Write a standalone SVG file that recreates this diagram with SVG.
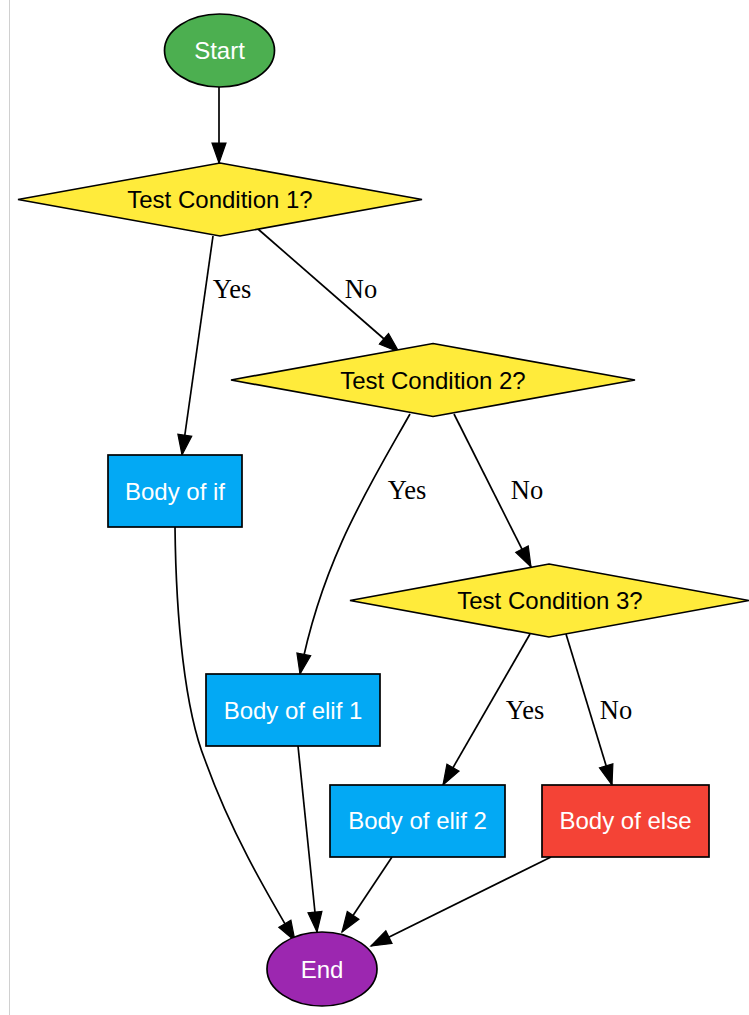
<svg xmlns="http://www.w3.org/2000/svg" width="749" height="1015" viewBox="0 0 749 1015">
<style>
.shape{stroke:#000;stroke-width:1.7}
.nt{font-family:"Liberation Sans",Arial,sans-serif;font-size:24px;text-anchor:middle}
.w{fill:#fff}
.b{fill:#000}
.lbl{font-family:"Liberation Serif","Times New Roman",serif;font-size:26.5px;text-anchor:middle;fill:#000}
.edge{fill:none;stroke:#000;stroke-width:1.7}
</style>
<defs>
<marker id="arr" markerUnits="userSpaceOnUse" markerWidth="24" markerHeight="18" viewBox="-1 -1 24 18" refX="20" refY="7" orient="auto">
<path d="M0,0 L20,7 L0,14 z" fill="#000" stroke="#000" stroke-width="1.2" stroke-linejoin="miter"/>
</marker>
</defs>
<rect width="749" height="1015" fill="#fff"/>
<line x1="9.5" y1="0" x2="9.5" y2="1015" stroke="#d0d0d0" stroke-width="1"/>
<g id="connectors">
<path class="edge" marker-end="url(#arr)" d="M219,87 L219,163"/>
<path class="edge" marker-end="url(#arr)" d="M213,236 L182,455"/>
<path class="edge" marker-end="url(#arr)" d="M258,229 L399,352"/>
<path class="edge" marker-end="url(#arr)" d="M410,414 C370,485 322,560 300,674"/>
<path class="edge" marker-end="url(#arr)" d="M454,414 L531,567"/>
<path class="edge" marker-end="url(#arr)" d="M530,634 L443,785"/>
<path class="edge" marker-end="url(#arr)" d="M566,634 L612,785"/>
<path class="edge" marker-end="url(#arr)" d="M175,527 C176,620 185,710 205,760 C230,830 265,890 295,941"/>
<path class="edge" marker-end="url(#arr)" d="M298,746 L317,932"/>
<path class="edge" marker-end="url(#arr)" d="M392,857 L342,932"/>
<path class="edge" marker-end="url(#arr)" d="M551,857 L371,946"/>
<text class="lbl" x="232" y="298">Yes</text>
<text class="lbl" x="361" y="298">No</text>
<text class="lbl" x="407" y="499">Yes</text>
<text class="lbl" x="527" y="499">No</text>
<text class="lbl" x="525" y="719">Yes</text>
<text class="lbl" x="616" y="719">No</text>
</g>
<g id="start">
<ellipse class="shape" cx="219.5" cy="50.5" rx="55" ry="36.5" fill="#4CAF50"/>
<text class="nt w" x="219.5" y="59">Start</text>
</g>
<g id="cond1">
<polygon class="shape" points="220,163 422,199.5 220,236 18,199.5" fill="#FFEB3B"/>
<text class="nt b" x="220" y="207.5">Test Condition 1?</text>
</g>
<g id="cond2">
<polygon class="shape" points="433,343.5 635,380 433,416.5 231,380" fill="#FFEB3B"/>
<text class="nt b" x="433" y="388.5">Test Condition 2?</text>
</g>
<g id="cond3">
<polygon class="shape" points="549,564 749,600.5 549,637 350,600.5" fill="#FFEB3B"/>
<text class="nt b" x="550" y="609">Test Condition 3?</text>
</g>
<g id="body_if">
<rect class="shape" x="108" y="455" width="134" height="72" fill="#03A9F4"/>
<text class="nt w" x="175" y="499.5">Body of if</text>
</g>
<g id="body_elif1">
<rect class="shape" x="206" y="674" width="174" height="72" fill="#03A9F4"/>
<text class="nt w" x="293" y="718.5">Body of elif 1</text>
</g>
<g id="body_elif2">
<rect class="shape" x="330" y="785" width="175" height="72" fill="#03A9F4"/>
<text class="nt w" x="417.5" y="829">Body of elif 2</text>
</g>
<g id="body_else">
<rect class="shape" x="542" y="785" width="167" height="72" fill="#F44336"/>
<text class="nt w" x="625.5" y="829">Body of else</text>
</g>
<g id="end">
<ellipse class="shape" cx="322" cy="969" rx="55" ry="37" fill="#9C27B0"/>
<text class="nt w" x="322" y="977.5">End</text>
</g>
</svg>
